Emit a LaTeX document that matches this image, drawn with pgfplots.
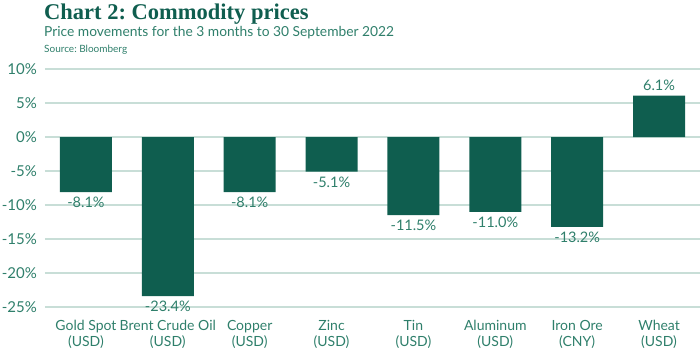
\documentclass[border=0pt]{standalone}
\usepackage{pgfplots}
\pgfplotsset{compat=1.18}
\usepackage{fontspec}
\setmainfont{Lato}
\newfontfamily\titlefont{Liberation Serif}
\frenchspacing
\definecolor{bargreen}{HTML}{0F5E4F}
\definecolor{txtgreen}{HTML}{2F7F6B}
\definecolor{gridgreen}{HTML}{C8DED7}
\begin{document}
\begin{tikzpicture}
\path[use as bounding box] (-45pt,-44pt) rectangle (655pt,307pt);
\begin{axis}[
  at={(0,0)}, anchor=south west,
  scale only axis,
  width=655pt, height=238pt,
  xmin=-0.5, xmax=7.5,
  ymin=-25, ymax=10,
  ytick={-25,-20,...,10},
  xtick={0,...,7},
  xticklabels={Gold Spot\\(USD),Brent Crude Oil\\(USD),Copper\\(USD),Zinc\\(USD),Tin\\(USD),Aluminum\\(USD),Iron Ore\\(CNY),Wheat\\(USD)},
  xticklabel style={align=center, font=\fontsize{14}{16}\selectfont, text=txtgreen, inner sep=0pt, yshift=-13pt},
  yticklabel={\pgfmathprintnumber{\tick}\%},
  yticklabel style={font=\fontsize{15}{16}\selectfont, text=txtgreen, inner sep=0pt, xshift=-8pt},
  /pgf/number format/assume math mode=true,
  axis line style={draw=none},
  major tick length=0pt,
  ymajorgrids,
  grid style={gridgreen, line width=1.2pt},
  ybar, bar width=52pt,
  nodes near coords={\pgfmathprintnumber[fixed,fixed zerofill,precision=1]{\pgfplotspointmeta}\%},
  nodes near coords style={font=\fontsize{14.5}{16}\selectfont, text=txtgreen, inner sep=5pt},
  clip=false,
]
\addplot[fill=bargreen, draw=none] coordinates {(0,-8.1) (1,-23.4) (2,-8.1) (3,-5.1) (4,-11.5) (5,-11.0) (6,-13.2) (7,6.1)};
\node[anchor=base west, inner sep=0pt, text=bargreen, font=\titlefont\bfseries\fontsize{22.5}{24}\selectfont] at ([xshift=-1pt,yshift=49pt]rel axis cs:0,1) {Chart 2: Commodity prices};
\node[anchor=base west, inner sep=0pt, text=txtgreen, font=\fontsize{13.8}{16}\selectfont] at ([xshift=-1pt,yshift=33pt]rel axis cs:0,1) {Price movements for the 3 months to 30 September 2022};
\node[anchor=base west, inner sep=0pt, text=txtgreen, font=\fontsize{10}{12}\selectfont] at ([xshift=-1pt,yshift=17pt]rel axis cs:0,1) {Source: Bloomberg};
\end{axis}
\end{tikzpicture}
\end{document}
